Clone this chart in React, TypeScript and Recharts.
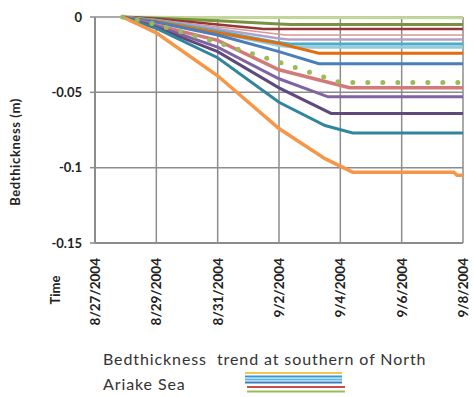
import React from 'react';
import { LineChart, Line, XAxis, YAxis, CartesianGrid } from 'recharts';

// x = days since 8/27/2004, y = bed thickness change (m)
const xTicks = [0, 2, 4, 6, 8, 10, 12];
const xTickLabels = ['8/27/2004', '8/29/2004', '8/31/2004', '9/2/2004', '9/4/2004', '9/6/2004', '9/8/2004'];
const yTicks = [0, -0.05, -0.1, -0.15];
const yTickLabels = ['0', '-0.05', '-0.1', '-0.15'];

const lightGreen = [[0.9, 0], [3, -0.0003], [12, -0.0005]];
const green = [[0.9, 0], [2, -0.0008], [4, -0.0025], [6, -0.0047], [6.4, -0.005], [12, -0.005]];
const darkRed = [[0.9, 0], [2, -0.0012], [4, -0.005], [5.5, -0.008], [12, -0.008]];
const pink = [[0.9, 0], [2, -0.0018], [4, -0.0065], [6, -0.0115], [6.2, -0.012], [12, -0.012]];
const lightPurple = [[0.9, 0], [2, -0.002], [4, -0.008], [6, -0.0143], [6.3, -0.015], [12, -0.015]];
const aqua = [[0.9, 0], [2, -0.0025], [4, -0.0095], [6, -0.017], [6.4, -0.018], [12, -0.018]];
const skyBlue = [[0.9, 0], [2, -0.003], [4, -0.0105], [6, -0.019], [6.5, -0.02], [12, -0.02]];
const orange = [[0.9, 0], [2, -0.003], [4, -0.0105], [6, -0.0175], [7.3, -0.024], [12, -0.024]];
const blue = [[0.9, 0], [2, -0.0035], [4, -0.012], [6, -0.023], [7.3, -0.031], [12, -0.031]];
const greenDots = [[0.9, 0], [2, -0.005], [4, -0.017], [6, -0.03], [8, -0.0435], [12, -0.0435]];
const red = [[0.9, 0], [2, -0.0055], [4, -0.0155], [6, -0.035], [8.3, -0.047], [12, -0.047]];
const purple = [[0.9, 0], [2, -0.006], [4, -0.02], [6, -0.041], [7.6, -0.053], [12, -0.053]];
const darkPurple = [[0.9, 0], [2, -0.007], [4, -0.023], [6, -0.047], [7.7, -0.064], [12, -0.064]];
const teal = [[0.9, 0], [2, -0.0075], [4, -0.027], [6, -0.0566], [7.5, -0.072], [8.4, -0.077], [12, -0.077]];
const orangeThick = [[0.9, 0], [2, -0.0105], [4, -0.039], [6, -0.074], [7.5, -0.094], [8.4, -0.103], [11.7, -0.103], [11.8, -0.105], [12, -0.105]];

const toPoints = (arr: number[][]) => arr.map(([t, v]) => ({ t, v }));

const series = [
  { name: 'lightGreen', values: lightGreen, color: '#C4D79B', width: 3 },
  { name: 'green', values: green, color: '#77933C', width: 3 },
  { name: 'darkRed', values: darkRed, color: '#953735', width: 2.5 },
  { name: 'pink', values: pink, color: '#D99694', width: 1.5 },
  { name: 'lightPurple', values: lightPurple, color: '#B3A2C7', width: 2.5 },
  { name: 'aqua', values: aqua, color: '#4BACC6', width: 3 },
  { name: 'skyBlue', values: skyBlue, color: '#93CDDD', width: 3 },
  { name: 'orange', values: orange, color: '#E46C0A', width: 3 },
  { name: 'blue', values: blue, color: '#4A7EBB', width: 3 },
  { name: 'red', values: red, color: '#D37A78', width: 3.5 },
  { name: 'purple', values: purple, color: '#8064A2', width: 3 },
  { name: 'darkPurple', values: darkPurple, color: '#5F497A', width: 3 },
  { name: 'teal', values: teal, color: '#31859C', width: 3 },
  { name: 'orangeThick', values: orangeThick, color: '#F79646', width: 3.5 },
];

const legendColors = ['#F2C94C', '#2E9BD6', '#5BB8E8', '#3D7BC0', '#C0504D', '#9BBB59'];

const font = 'Lato, "Open Sans", sans-serif';

function DateTick(props: any) {
  const { x, y, payload } = props;
  const idx = xTicks.indexOf(payload.value);
  const ty = y + 15;
  return (
    <text
      x={x}
      y={ty}
      transform={`rotate(-90 ${x} ${ty})`}
      textAnchor="end"
      dominantBaseline="central"
      fontSize={13.5}
      fontWeight={700}
      fontFamily={font}
      fill="#222"
    >
      {xTickLabels[idx]}
    </text>
  );
}

export default function App() {
  return (
    <div style={{ position: 'absolute', left: 0, top: 0, width: 474, height: 397, background: '#fff', fontFamily: font }}>
      <LineChart width={474} height={330} margin={{ top: 17, right: 11, bottom: 0, left: 0 }}>
        <CartesianGrid stroke="#8c8c8c" strokeWidth={1.5} />
        <XAxis
          type="number"
          dataKey="t"
          domain={[0, 12]}
          ticks={xTicks}
          height={87}
          tickLine={false}
          tickSize={0}
          tickMargin={0}
          axisLine={{ stroke: '#8c8c8c', strokeWidth: 2 }}
          tick={<DateTick />}
          interval={0}
          label={{
            content: (p: any) => {
              const vb = p.viewBox || { x: 95, y: 243 };
              const lx = vb.x - 40;
              const ly = vb.y + 47;
              return (
                <text x={lx} y={ly} transform={`rotate(-90 ${lx} ${ly})`} textAnchor="middle" dominantBaseline="central" fontSize={13} fontWeight={700} fontFamily={font} fill="#222">
                  Time
                </text>
              );
            },
          }}
        />
        <YAxis
          type="number"
          domain={[-0.15, 0]}
          ticks={yTicks}
          width={95}
          tickSize={5}
          tickMargin={8}
          tickLine={{ stroke: '#8c8c8c', strokeWidth: 1.5 }}
          axisLine={{ stroke: '#8c8c8c', strokeWidth: 2 }}
          tick={{ fontSize: 13, fontWeight: 700, fill: '#222', fontFamily: font }}
          tickFormatter={(v: number) => yTickLabels[yTicks.indexOf(v)]}
          interval={0}
          label={{
            content: () => (
              <text x={15} y={152} transform="rotate(-90 15 152)" textAnchor="middle" dominantBaseline="central" fontSize={13} fontWeight={700} letterSpacing={0.6} fontFamily={font} fill="#222">
                Bedthickness (m)
              </text>
            ),
          }}
        />
        {series.map((s) => (
          <Line
            key={s.name}
            data={toPoints(s.values)}
            dataKey="v"
            type="linear"
            stroke={s.color}
            strokeWidth={s.width}
            dot={false}
            isAnimationActive={false}
          />
        ))}
        <Line
          data={toPoints(greenDots)}
          dataKey="v"
          type="linear"
          stroke="#9BBB59"
          strokeWidth={5}
          strokeDasharray="0 15"
          strokeLinecap="round"
          dot={false}
          isAnimationActive={false}
        />
      </LineChart>
      <div style={{ position: 'absolute', left: 103, top: 346, fontSize: 16, letterSpacing: 0.9, lineHeight: '25px', color: '#333', whiteSpace: 'pre' }}>
        <div>{'Bedthickness  trend at southern of North'}</div>
        <div>Ariake Sea</div>
      </div>
      <svg style={{ position: 'absolute', left: 0, top: 0 }} width={474} height={397} pointerEvents="none">
        {legendColors.map((c, i) => {
          const ys = [373, 376.5, 379.5, 382.5, 387, 391.5];
          return <line key={c} x1={245 + (i > 3 ? 2 : 0)} x2={342 + (i > 3 ? 3 : 0)} y1={ys[i]} y2={ys[i]} stroke={c} strokeWidth={2.2} />;
        })}
      </svg>
    </div>
  );
}
